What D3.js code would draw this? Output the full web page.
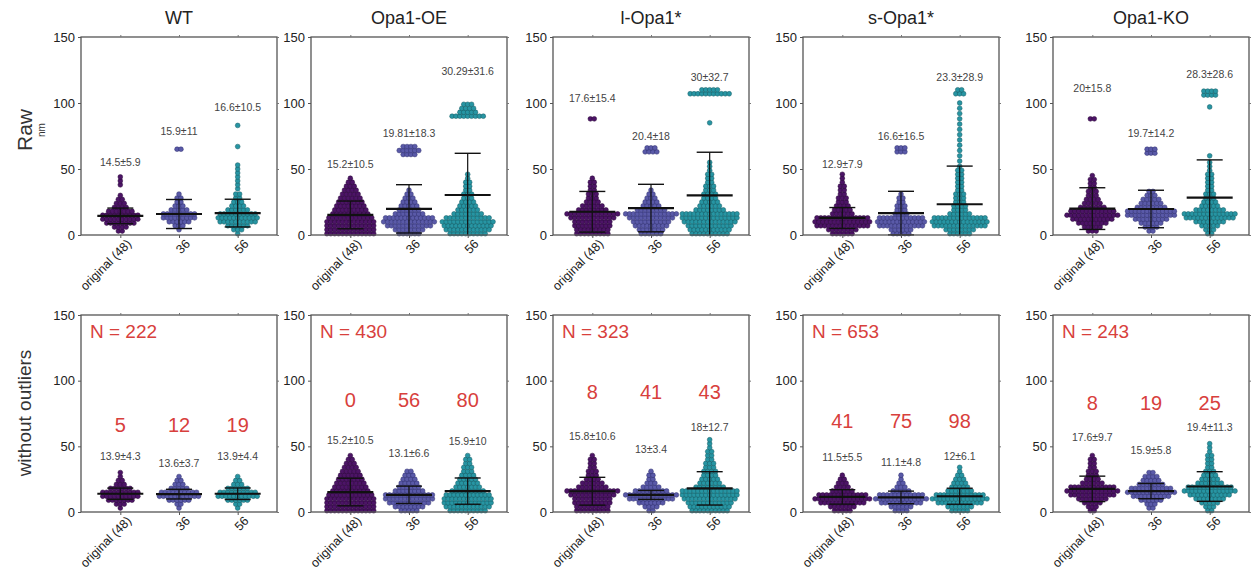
<!DOCTYPE html>
<html>
<head>
<meta charset="utf-8">
<script src="https://cdn.jsdelivr.net/npm/d3@7"></script>
<style>
  body { margin: 0; background: #fff; }
  svg { font-family: Arial, "Liberation Sans", sans-serif; }
</style>
</head>
<body>
<svg id="chart" width="1254" height="584"></svg>
<script>
// ---------- data ----------
const genotypes = ["WT", "Opa1-OE", "l-Opa1*", "s-Opa1*", "Opa1-KO"];
const groups = ["original (48)", "36", "56"];
const rowNames = ["Raw", "without outliers"];
const yTicks = [0, 50, 100, 150];

// dot stacks per group: [value (nm), number of dots side by side]
const rawDots = [
  [ // WT
    [[3,2],[6,4],[9,8],[12,10],[15,10],[18,7],[21,4],[24,3],[27,2],[30,1],[38,1],[41,1],[44,1]],
    [[4,1],[7,3],[10,6],[13,9],[16,9],[19,5],[22,3],[25,2],[28,2],[31,1],[65,2]],
    [[1,1],[4,3],[7,6],[10,10],[13,11],[16,10],[19,6],[22,4],[25,3],[28,2],[31,2],[35,1],[38,1],[41,1],[44,1],[47,1],[50,1],[53,1],[67,1],[83,1]]
  ],
  [ // Opa1-OE
    [[1,13],[4,13],[7,13],[10,13],[13,12],[16,10],[19,9],[22,8],[25,7],[28,6],[31,5],[34,4],[37,3],[40,2],[43,1]],
    [[1,6],[4,8],[7,12],[10,14],[13,13],[16,8],[19,6],[22,5],[25,4],[28,3],[31,2],[34,1],[61,4],[64,6],[67,4]],
    [[1,10],[4,12],[7,13],[10,14],[13,12],[16,8],[19,6],[22,5],[25,4],[28,3],[31,3],[34,2],[37,2],[40,2],[43,1],[46,1],[90,9],[93,5],[96,4],[99,3]]
  ],
  [ // l-Opa1*
    [[1,9],[4,9],[7,10],[10,10],[13,12],[16,14],[19,8],[22,6],[25,4],[28,3],[31,3],[34,2],[37,2],[40,2],[43,1],[88,2]],
    [[1,6],[4,7],[7,9],[10,10],[13,12],[16,14],[19,8],[22,5],[25,4],[28,3],[31,2],[34,1],[63,4],[66,3]],
    [[1,10],[4,11],[7,12],[10,14],[13,15],[16,15],[19,8],[22,6],[25,5],[28,4],[31,4],[34,3],[37,3],[40,2],[43,2],[46,2],[49,1],[52,1],[55,1],[85,1],[107,11],[110,5]]
  ],
  [ // s-Opa1*
    [[1,6],[4,8],[7,14],[10,15],[13,14],[16,6],[19,5],[22,4],[25,3],[28,3],[31,2],[34,2],[37,2],[40,1],[43,1],[46,1]],
    [[1,5],[4,6],[7,12],[10,13],[13,12],[16,4],[19,3],[22,3],[25,2],[28,2],[31,1],[63,3],[66,3]],
    [[1,6],[4,8],[7,14],[10,15],[13,14],[16,6],[19,4],[22,4],[25,3],[28,3],[31,3],[34,2],[37,2],[40,2],[43,2],[46,2],[49,2],[52,1],[56,1],[60,1],[64,1],[68,1],[72,1],[76,1],[80,1],[84,1],[88,1],[92,1],[96,1],[100,1],[107,3],[110,2]]
  ],
  [ // Opa1-KO
    [[3,3],[6,5],[9,8],[12,11],[15,14],[18,12],[21,7],[24,5],[27,4],[30,3],[33,3],[36,2],[39,2],[42,2],[45,1],[88,2]],
    [[3,2],[6,4],[9,6],[12,9],[15,13],[18,13],[21,8],[24,6],[27,5],[30,3],[33,2],[62,3],[65,3]],
    [[1,2],[4,3],[7,5],[10,8],[13,13],[16,14],[19,8],[22,5],[25,4],[28,3],[31,3],[34,2],[37,2],[40,2],[43,2],[46,2],[49,1],[52,1],[55,1],[60,1],[97,1],[106,4],[109,4]]
  ]
];

const cleanDots = [
  [ // WT
    [[3,1],[6,3],[9,7],[12,10],[15,10],[18,6],[21,3],[24,2],[27,1],[30,1]],
    [[3,1],[6,2],[9,6],[12,11],[15,10],[18,5],[21,3],[24,2],[27,1]],
    [[3,1],[6,2],[9,6],[12,11],[15,10],[18,6],[21,3],[24,2],[27,1]]
  ],
  [ // Opa1-OE
    [[1,13],[4,13],[7,13],[10,13],[13,12],[16,10],[19,9],[22,8],[25,7],[28,6],[31,5],[34,4],[37,3],[40,2],[43,1]],
    [[1,5],[4,8],[7,11],[10,13],[13,13],[16,8],[19,6],[22,5],[25,4],[28,3],[31,2]],
    [[1,10],[4,12],[7,13],[10,13],[13,12],[16,9],[19,7],[22,6],[25,5],[28,4],[31,3],[34,3],[37,2],[40,2],[43,1]]
  ],
  [ // l-Opa1*
    [[1,9],[4,9],[7,10],[10,10],[13,12],[16,14],[19,8],[22,6],[25,4],[28,3],[31,3],[34,2],[37,2],[40,2],[43,1]],
    [[1,2],[4,4],[7,7],[10,12],[13,14],[16,9],[19,5],[22,3],[25,2],[28,2],[31,1]],
    [[1,10],[4,11],[7,12],[10,14],[13,15],[16,15],[19,8],[22,6],[25,5],[28,4],[31,4],[34,3],[37,3],[40,2],[43,2],[46,2],[49,1],[52,1],[55,1]]
  ],
  [ // s-Opa1*
    [[1,5],[4,7],[7,12],[10,15],[13,13],[16,6],[19,4],[22,3],[25,2],[28,1]],
    [[1,4],[4,6],[7,11],[10,14],[13,12],[16,5],[19,3],[22,2],[25,1],[28,1]],
    [[1,5],[4,7],[7,12],[10,15],[13,13],[16,7],[19,5],[22,4],[25,3],[28,2],[31,1],[34,1]]
  ],
  [ // Opa1-KO
    [[1,2],[4,3],[7,5],[10,8],[13,12],[16,14],[19,12],[22,6],[25,4],[28,3],[31,3],[34,2],[37,2],[40,2],[43,1]],
    [[3,2],[6,3],[9,6],[12,10],[15,13],[18,11],[21,7],[24,5],[27,4],[30,2]],
    [[1,2],[4,3],[7,5],[10,8],[13,11],[16,14],[19,12],[22,7],[25,5],[28,4],[31,3],[34,2],[37,2],[40,2],[43,2],[46,1],[49,1],[52,1]]
  ]
];

// mean and SD per genotype x group
const rawMean = [[14.5,15.9,16.6],[15.2,19.81,30.29],[17.6,20.4,30],[12.9,16.6,23.3],[20,19.7,28.3]];
const rawSD   = [[5.9,11,10.5],[10.5,18.3,31.6],[15.4,18,32.7],[7.9,16.5,28.9],[15.8,14.2,28.6]];
const cleanMean = [[13.9,13.6,13.9],[15.2,13.1,15.9],[15.8,13,18],[11.5,11.1,12],[17.6,15.9,19.4]];
const cleanSD   = [[4.3,3.7,4.4],[10.5,6.6,10],[10.6,3.4,12.7],[5.5,4.8,6.1],[9.7,5.8,11.3]];

// where the mean±SD labels sit (in nm)
const rawLabelAt = [[55,79,97],[54,77,124],[104,75,120],[54,75,120],[111,77,122]];
const cleanLabelAt = [[43,37,43],[55,45,54],[58,48,65],[42,38,43],[57,47,65]];

// outliers removed per group, and total N
const outlierCounts = [[5,12,19],[0,56,80],[8,41,43],[41,75,98],[8,19,25]];
const outlierAt = [66, 85, 91, 69, 83];
const totalN = [222, 430, 323, 653, 243];

// ---------- layout ----------
const colors = ["#4c1466", "#5a5aa8", "#2795a3"];
const strokes = ["#2a0838", "#2f2f6e", "#145a62"];
const panelLeft = [81, 311, 553, 803, 1053];
const panelW = 196;
const rows = [{top: 37, bottom: 235}, {top: 315, bottom: 512}];

const svg = d3.select("#chart");

const y = d3.scaleLinear().domain([0, 150]);

rows.forEach((row, r) => {
    const yS = y.copy().range([row.bottom, row.top]);
    const dots = r === 0 ? rawDots : cleanDots;
    const means = r === 0 ? rawMean : cleanMean;
    const sds = r === 0 ? rawSD : cleanSD;
    const labelAt = r === 0 ? rawLabelAt : cleanLabelAt;

    genotypes.forEach((g, p) => {
        const x = d3.scalePoint().domain(groups)
            .range([panelLeft[p], panelLeft[p] + panelW]).padding(0.67);
        const pg = svg.append("g");

        // title
        if (r === 0) {
            pg.append("text")
                .attr("x", panelLeft[p] + panelW / 2).attr("y", 24)
                .attr("text-anchor", "middle")
                .attr("font-size", 18).attr("fill", "#222")
                .text(g);
        }

        // dots
        groups.forEach((grp, k) => {
            const cx = x(grp);
            const stack = pg.append("g");
            dots[p][k].forEach(([v, n]) => {
                d3.range(n).forEach(i => {
                    stack.append("circle")
                        .attr("cx", cx + (i - (n - 1) / 2) * 3.9)
                        .attr("cy", yS(v))
                        .attr("r", 2.4)
                        .attr("fill", colors[k])
                        .attr("stroke", strokes[k])
                        .attr("stroke-width", 0.5);
                });
            });

            // mean and SD
            const m = means[p][k], s = sds[p][k];
            const lo = Math.max(0, m - s), hi = m + s;
            pg.append("line")
                .attr("x1", cx).attr("x2", cx)
                .attr("y1", yS(lo)).attr("y2", yS(hi))
                .attr("stroke", "#111").attr("stroke-width", 1.2);
            [lo, hi].forEach(v => {
                if (v <= 0) return;
                pg.append("line")
                    .attr("x1", cx - 13).attr("x2", cx + 13)
                    .attr("y1", yS(v)).attr("y2", yS(v))
                    .attr("stroke", "#111").attr("stroke-width", 1.4);
            });
            pg.append("line")
                .attr("x1", cx - 23).attr("x2", cx + 23)
                .attr("y1", yS(m)).attr("y2", yS(m))
                .attr("stroke", "#111").attr("stroke-width", 2.2);

            // mean ± SD label
            pg.append("text")
                .attr("x", cx).attr("y", yS(labelAt[p][k]) + 4)
                .attr("text-anchor", "middle")
                .attr("font-size", 10.5).attr("fill", "#444")
                .text(m + "±" + s);

            if (r === 1) {
                pg.append("text")
                    .attr("x", cx).attr("y", yS(outlierAt[p]) + 7)
                    .attr("text-anchor", "middle")
                    .attr("font-size", 20).attr("fill", "#d8403c")
                    .text(outlierCounts[p][k]);
            }
        });

        if (r === 1) {
            pg.append("text")
                .attr("x", panelLeft[p] + 9).attr("y", row.top + 23)
                .attr("font-size", 19).attr("fill", "#d8403c")
                .text("N = " + totalN[p]);
        }

        // frame
        pg.append("rect")
            .attr("x", panelLeft[p]).attr("y", row.top)
            .attr("width", panelW).attr("height", row.bottom - row.top)
            .attr("fill", "none").attr("stroke", "#555").attr("stroke-width", 1.3);

        // y axis
        const yAxis = pg.append("g")
            .attr("transform", `translate(${panelLeft[p]},0)`)
            .call(d3.axisLeft(yS).tickValues(yTicks).tickSize(3));
        yAxis.select(".domain").remove();
        yAxis.selectAll("line").attr("stroke", "#555");
        yAxis.selectAll("text").attr("font-size", 13).attr("fill", "#222")
            .attr("font-family", "Arial, 'Liberation Sans', sans-serif");

        // right-side ticks
        pg.append("g")
            .attr("transform", `translate(${panelLeft[p] + panelW},0)`)
            .call(d3.axisRight(yS).tickValues(yTicks).tickSize(2).tickFormat(""))
            .call(a => a.select(".domain").remove())
            .selectAll("line").attr("stroke", "#777");

        // x axis
        const xAxis = pg.append("g")
            .attr("transform", `translate(0,${row.bottom})`)
            .call(d3.axisBottom(x).tickSize(3));
        xAxis.select(".domain").remove();
        xAxis.selectAll("line").attr("stroke", "#555");
        xAxis.selectAll("text")
            .attr("font-size", 12.5).attr("fill", "#222")
            .attr("font-family", "Arial, 'Liberation Sans', sans-serif")
            .attr("text-anchor", "end")
            .attr("dx", "0.1em").attr("dy", "0.7em")
            .attr("transform", "rotate(-45)");

        // top ticks at categories
        pg.append("g")
            .attr("transform", `translate(0,${row.top})`)
            .call(d3.axisTop(x).tickSize(2).tickFormat(""))
            .call(a => a.select(".domain").remove())
            .selectAll("line").attr("stroke", "#777");
    });
});

// row labels
svg.append("text")
    .attr("transform", "translate(32,130) rotate(-90)")
    .attr("text-anchor", "middle")
    .attr("font-size", 21).attr("fill", "#333")
    .text(rowNames[0]);
svg.append("text")
    .attr("transform", "translate(45,130) rotate(-90)")
    .attr("text-anchor", "middle")
    .attr("font-size", 10).attr("fill", "#333")
    .text("nm");
svg.append("text")
    .attr("transform", "translate(31,413) rotate(-90)")
    .attr("text-anchor", "middle")
    .attr("font-size", 19).attr("fill", "#333")
    .text(rowNames[1]);
</script>
</body>
</html>
